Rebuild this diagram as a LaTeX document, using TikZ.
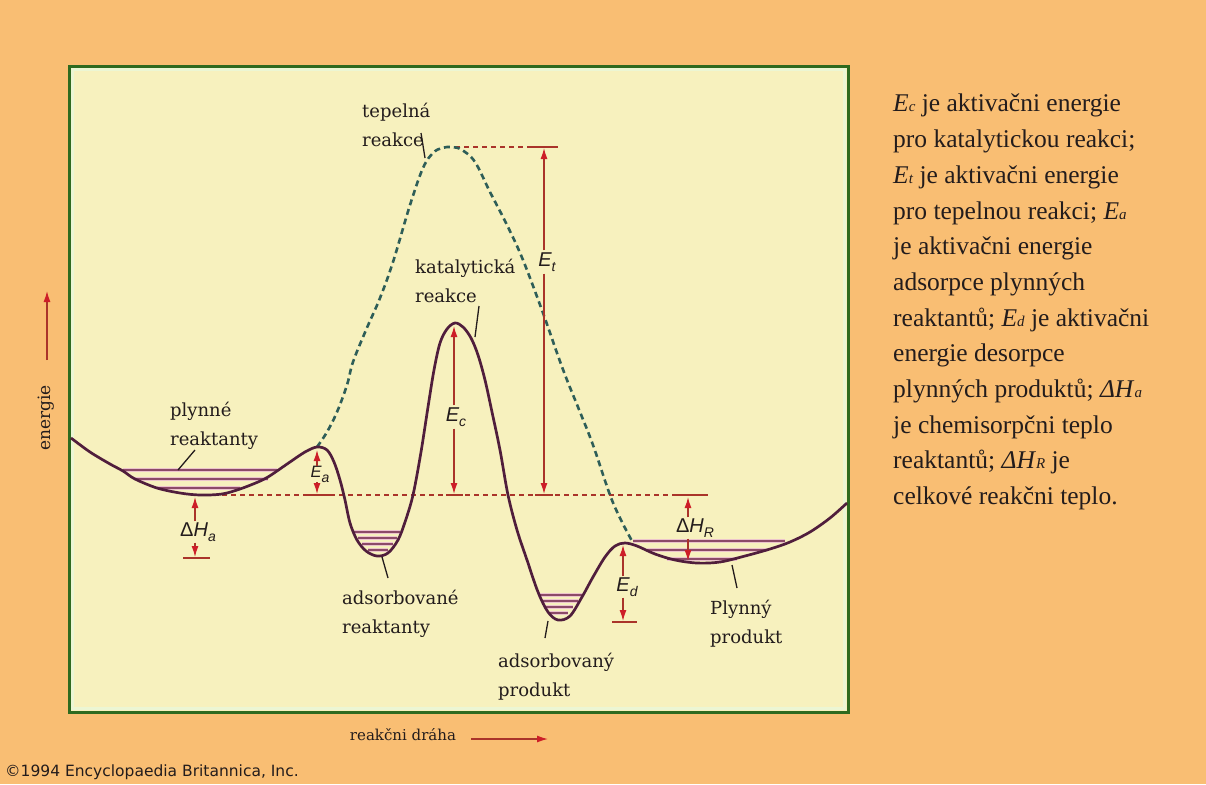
\documentclass[tikz,border=0pt]{standalone}
\usepackage{fontspec}
\setmainfont{Liberation Serif}
\newfontfamily\lblfont{DejaVu Serif}
\newfontfamily\symfont{Liberation Sans}
\newfontfamily\cpfont{DejaVu Sans}
\usetikzlibrary{arrows.meta}
\definecolor{bgorange}{RGB}{249,190,115}
\definecolor{plotbg}{RGB}{247,241,190}
\definecolor{plotedge}{RGB}{236,246,212}
\definecolor{framegreen}{RGB}{47,106,31}
\definecolor{curvepurple}{RGB}{80,30,60}
\definecolor{thermalteal}{RGB}{46,94,88}
\definecolor{arrowred}{RGB}{170,52,42}
\definecolor{tipred}{RGB}{205,30,40}
\definecolor{levelpurple}{RGB}{140,74,104}
\definecolor{levelglow}{RGB}{236,196,204}
\definecolor{inkdark}{RGB}{35,28,28}
\newcommand{\plotsym}[2]{{\symfont\itshape #1}\raisebox{-5pt}{\symfont\itshape\fontsize{14}{14}\selectfont #2}}
\newcommand{\txsym}[2]{\textit{#1}{\fontsize{15}{15}\selectfont\textit{#2}}}

\begin{document}
\begin{tikzpicture}[x=1pt, y=-1pt,
  enarrow/.style={-{Latex[length=11pt,width=7pt,color=tipred]}, draw=arrowred, line width=1.3pt},
  refline/.style={draw=arrowred, line width=1.2pt, dash pattern=on 5pt off 4pt},
  capline/.style={draw=arrowred, line width=1.3pt},
  leader/.style={draw=inkdark, line width=1.3pt},
  level/.style={draw=levelpurple, line width=1.6pt, preaction={draw=levelglow, line width=4pt}},
  lbl/.style={font=\lblfont\fontsize{18}{29}\selectfont, align=left, inner sep=0pt, text=inkdark},
  sym/.style={font=\fontsize{20}{20}\selectfont, inner sep=2pt, text=inkdark},
  smallsym/.style={font=\fontsize{16.5}{16.5}\selectfont, inner sep=0pt, text=inkdark}]
\useasboundingbox (0,0) rectangle (1206,784);
\fill[bgorange] (0,0) rectangle (1206,784);

% plot frame
\draw[framegreen, fill=plotbg, line width=3pt] (69,66) rectangle (848,712);
\draw[plotedge, line width=3pt] (72.5,69.5) rectangle (844.5,708.5);

% vibrational levels in the wells
\draw[level] (123,470) -- (277,470);
\draw[level] (135,479) -- (268,479);
\draw[level] (157,488) -- (240,488);
\draw[level] (353,532) -- (400,532);
\draw[level] (358,538) -- (397,538);
\draw[level] (362,544) -- (393,544);
\draw[level] (368,550) -- (388,550);
\draw[level] (538,595) -- (582,595);
\draw[level] (542,601) -- (578,601);
\draw[level] (545,607) -- (573,607);
\draw[level] (550,613) -- (568,613);
\draw[level] (633,541) -- (785,541);
\draw[level] (647,550) -- (767,550);
\draw[level] (667,559) -- (737,559);

% reference levels
\coordinate (baseL) at (222,495);
\coordinate (baseR) at (676,495);
\coordinate (baseCap) at (708,495);
\coordinate (peakT) at (455,147);
\coordinate (peakCapL) at (532,147);
\coordinate (peakCapR) at (558,147);
\draw[refline] (baseL) -- (baseR);
\draw[capline] (baseR) -- (baseCap);
\draw[refline] (peakT) -- (peakCapL);
\draw[capline] (peakCapL) -- (peakCapR);
\draw[capline] (303,495) -- (330,495);
\draw[capline] (446,495) -- (463,495);
\draw[capline] (535,495) -- (553,495);

% thermal (uncatalysed) path
\draw[thermalteal, line width=2.6pt, dash pattern=on 6pt off 4pt] plot[smooth, tension=0.6] coordinates {
  (317,447) (327,432) (337,412) (347,385) (353,362) (366,330) (380,298) (393,262)
  (410,205) (423,168) (433,153) (442,148) (452,147) (462,150) (475,162) (490,192)
  (507,225) (523,260) (543,313) (557,353) (567,380) (580,412) (593,445) (610,495)
  (621,520) (632,541)};

% catalysed path
\draw[curvepurple, line width=2.7pt] plot[smooth, tension=0.55] coordinates {
  (71,438) (90,452) (110,464) (123,471) (135,479) (157,488) (180,493) (200,495)
  (222,494) (240,489) (258,482) (268,477) (277,471) (290,462) (305,452) (317,447)
  (327,450) (334,462) (340,480) (345,500) (350,523) (357,540) (366,551) (377,556)
  (388,553) (398,540) (405,522) (413,495) (421,452) (428,407) (434,370) (440,343)
  (447,329) (455,323) (463,327) (471,338) (478,355) (485,380) (492,412) (500,450)
  (508,495) (517,530) (527,560) (538,592) (548,612) (558,620) (570,616) (582,597)
  (593,577) (605,557) (615,546) (625,543) (637,546) (655,554) (675,560) (697,563)
  (720,562) (745,556) (770,549) (790,542) (810,532) (830,518) (847,503)};

% energy arrows
\coordinate (ecTop) at (454,326);
\coordinate (ecBot) at (454,494);
\coordinate (etTop) at (544,148);
\coordinate (etBot) at (544,494);
\coordinate (eaTop) at (317,450);
\coordinate (eaBot) at (317,494);
\coordinate (haTop) at (195,497);
\coordinate (haBot) at (195,557);
\coordinate (edTop) at (623,545);
\coordinate (edBot) at (623,621);
\coordinate (hrTop) at (688,497);
\coordinate (hrBot) at (688,561);
\node[sym] (ecLbl) at (456,417) {\plotsym{E}{c}};
\node[sym] (etLbl) at (547,262) {\plotsym{E}{t}};
\node[smallsym] (eaLbl) at (320,474) {\plotsym{E}{a}};
\node[sym, inner sep=1pt] (haLbl) at (198,532) {{\symfont Δ}\plotsym{H}{a}};
\node[sym, inner sep=1pt] (edLbl) at (627,587) {\plotsym{E}{d}};
\node[sym, inner sep=1pt] (hrLbl) at (695,528) {{\symfont Δ}\plotsym{H}{R}};
\draw[capline] (183,558) -- (210,558);
\draw[capline] (612,622) -- (637,622);
\foreach \lab/\up/\dn in {ecLbl/ecTop/ecBot, etLbl/etTop/etBot, eaLbl/eaTop/eaBot,
                          haLbl/haTop/haBot, edLbl/edTop/edBot, hrLbl/hrTop/hrBot} {
  \draw[enarrow] (\lab.north -| \up) -- (\up);
  \draw[enarrow] (\lab.south -| \dn) -- (\dn);
}

% curve labels
\node[lbl, anchor=west] (tepelna) at (362,125) {tepelná\\reakce};
\node[lbl, anchor=west] (katal) at (415,281) {katalytická\\reakce};
\node[lbl, anchor=west] (plynneR) at (170,426) {plynné\\reaktanty};
\node[lbl, anchor=west] (adsR) at (342,614) {adsorbované\\reaktanty};
\node[lbl, anchor=west] (adsP) at (498,677) {adsorbovaný\\produkt};
\node[lbl, anchor=west] (plynnyP) at (710,624) {Plynný\\produkt};
\coordinate (tepelnaPt) at (425,158);
\coordinate (katalPt) at (475,337);
\coordinate (plynneRPt) at (178,470);
\coordinate (adsRPt) at (382,557);
\coordinate (adsPPt) at (548,621);
\coordinate (plynnyPPt) at (732,565);
\draw[leader] (421,133) -- (tepelnaPt);
\draw[leader] (479,306) -- (katalPt);
\draw[leader] (195,450) -- (plynneRPt);
\draw[leader] (388,578) -- (adsRPt);
\draw[leader] (545,638) -- (adsPPt);
\draw[leader] (737,588) -- (plynnyPPt);

% axes
\coordinate (enFoot) at (47,360);
\coordinate (enHead) at (47,291);
\draw[enarrow] (enFoot) -- (enHead);
\node[lbl, font=\lblfont\fontsize{17}{17}\selectfont, rotate=90] (energie) at (46,418) {energie};
\node[lbl, font=\lblfont\fontsize{15}{15}\selectfont] (draha) at (403,735) {reakčni dráha};
\coordinate (drahaTail) at (471,739);
\coordinate (drahaHead) at (548,739);
\draw[enarrow] (drahaTail) -- (drahaHead);

% legend
\node[anchor=north west, inner sep=0pt, align=left, text=inkdark,
      font=\fontsize{25.5}{35.7}\selectfont] (legend) at (893,94) {%
  \txsym{E}{c} je aktivačni energie\\
  pro katalytickou reakci;\\
  \txsym{E}{t} je aktivačni energie\\
  pro tepelnou reakci; \txsym{E}{a}\\
  je aktivačni energie\\
  adsorpce plynných\\
  reaktantů; \txsym{E}{d} je aktivačni\\
  energie desorpce\\
  plynných produktů; \txsym{ΔH}{a}\\
  je chemisorpčni teplo\\
  reaktantů; \txsym{ΔH}{R} je\\
  celkové reakčni teplo.};

\node[anchor=west, inner sep=0pt, text=inkdark, font=\cpfont\fontsize{15.5}{15.5}\selectfont] (copyright) at (5,772) {©1994 Encyclopaedia Britannica, Inc.};
\end{tikzpicture}
\end{document}
